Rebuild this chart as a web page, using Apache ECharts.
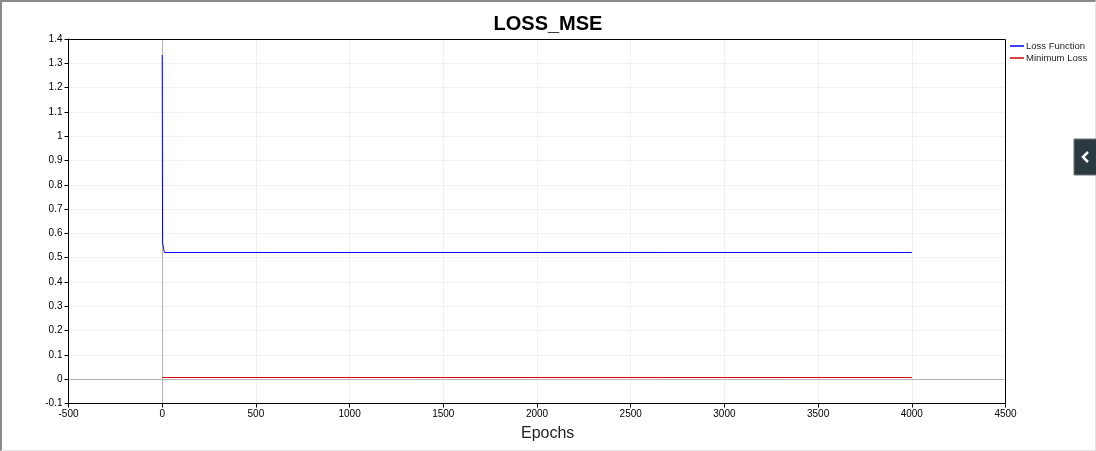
<!DOCTYPE html>
<html>
<head>
<meta charset="utf-8">
<script src="https://cdn.jsdelivr.net/npm/echarts@6/dist/echarts.min.js"></script>
<style>
html,body{margin:0;padding:0;background:#fff;}
#frame{position:absolute;left:0;top:0;width:1093px;height:448px;border-top:2px solid #8a8a8a;border-left:2px solid #8a8a8a;border-right:1px solid #e3e3e3;border-bottom:1px solid #e3e3e3;}
#chart{position:absolute;left:-2px;top:-2px;width:1096px;height:451px;}
</style>
</head>
<body>
<div id="frame"><div id="chart"></div></div>
<script>
// Data
const title = 'LOSS_MSE';
const xName = 'Epochs';
const lossEpochs = [0, 2, 9, 12, 4000];
const lossValues = [1.334, 0.56, 0.532, 0.5214, 0.5214];
const minEpochs = [0, 4000];
const minValues = [0.007, 0.007];
const seriesNames = ['Loss Function', 'Minimum Loss'];

const font = 'Liberation Sans, Arial, sans-serif';
const G = {left: 68.5, top: 39, right: 90.5, bottom: 47.5};
const chart = echarts.init(document.getElementById('chart'));
chart.setOption({
  animation: false,
  title: {
    text: title, left: 543, top: 9, textAlign: 'center',
    textStyle: {fontFamily: font, fontSize: 20, fontWeight: 'bold', color: '#000'}
  },
  legend: {
    orient: 'vertical', left: 1005, top: 36, itemGap: 2,
    itemWidth: 14, itemHeight: 1.5, icon: 'rect',
    textStyle: {fontFamily: font, fontSize: 9.5, color: '#222', padding: [0,0,0,-3]},
    data: seriesNames
  },
  grid: {left: G.left, right: G.right, top: G.top, bottom: G.bottom},
  xAxis: {
    type: 'value', min: -500, max: 4500, interval: 500,
    axisLine: {show: true, onZero: false, lineStyle: {color: '#000', width: 1}},
    axisTick: {show: true, length: 4, lineStyle: {color: '#000'}},
    axisLabel: {fontFamily: font, fontSize: 10, color: '#000', margin: 6,
      formatter: v => String(Math.round(v))},
    splitLine: {show: true, lineStyle: {color: '#f0f0f0', width: 1}}
  },
  yAxis: {
    type: 'value', min: -0.1, max: 1.4, interval: 0.1,
    axisLine: {show: true, onZero: false, lineStyle: {color: '#000', width: 1}},
    axisTick: {show: true, length: 4, lineStyle: {color: '#000'}},
    axisLabel: {fontFamily: font, fontSize: 10, color: '#000', margin: 6,
      formatter: v => String(+v.toFixed(1))},
    splitLine: {show: true, lineStyle: {color: '#f0f0f0', width: 1}}
  },
  series: [
    {
      name: seriesNames[1], type: 'line', symbol: 'none', z: 3,
      data: minEpochs.map((e, i) => [e, minValues[i]]),
      lineStyle: {color: '#d80000', width: 1}, itemStyle: {color: '#d80000'},
      markLine: {
        silent: true, symbol: 'none', label: {show: false}, z: 2,
        lineStyle: {color: '#b4b4b4', width: 1, type: 'solid'},
        data: [{xAxis: 0}, {yAxis: 0}]
      }
    },
    {
      name: seriesNames[0], type: 'line', symbol: 'none', z: 4,
      data: lossEpochs.map((e, i) => [e, lossValues[i]]),
      lineStyle: {color: '#0000ff', width: 1}, itemStyle: {color: '#0000ff'}
    }
  ],
  graphic: [
    {type: 'rect', z: 100, silent: true,
      shape: {x: 68.5, y: 39.5, width: 937, height: 364},
      style: {fill: null, stroke: '#000', lineWidth: 1}},
    {type: 'text', left: 548 - 27, top: 426,
      style: {text: xName, fontFamily: font, fontSize: 16, fill: '#222'}},
    {type: 'rect', shape: {x: 1074, y: 139, width: 24, height: 36},
      style: {fill: '#2b3a40', stroke: '#6e7478', lineWidth: 1}},
    {type: 'polyline', shape: {points: [[1088, 152], [1083, 157], [1088, 162]]},
      style: {stroke: '#fff', lineWidth: 2.5, fill: null}}
  ]
});
</script>
</body>
</html>
